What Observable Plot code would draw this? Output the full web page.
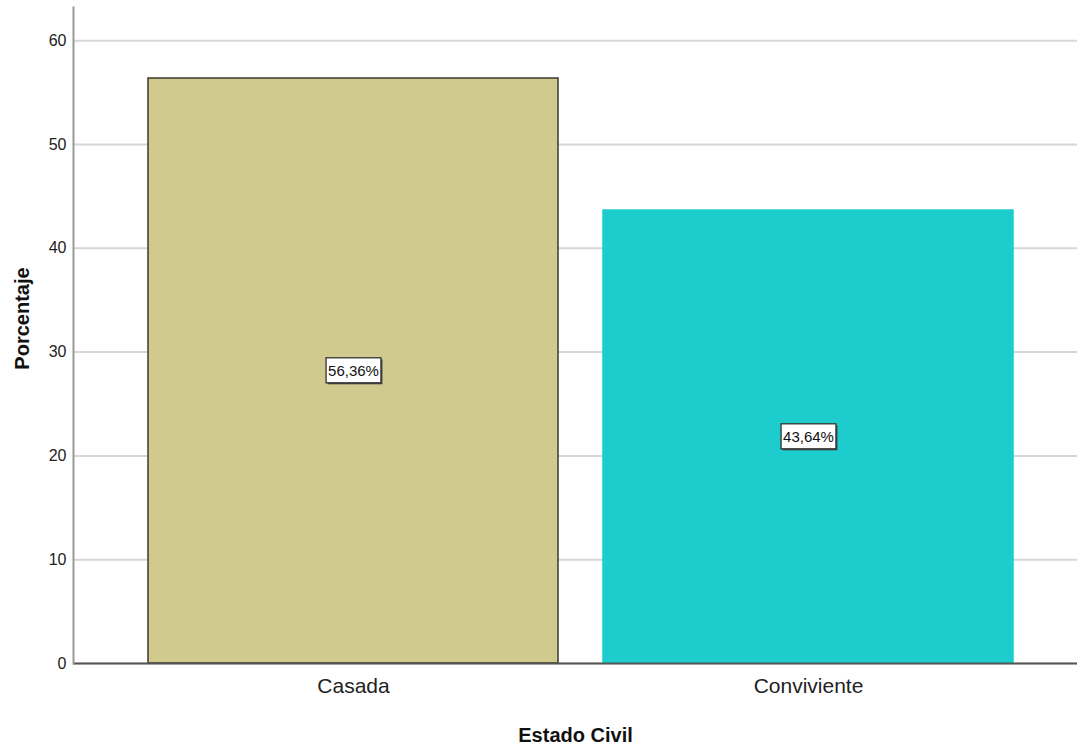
<!DOCTYPE html>
<html>
<head>
<meta charset="utf-8">
<script src="https://cdn.jsdelivr.net/npm/d3@7"></script>
<script src="https://cdn.jsdelivr.net/npm/@observablehq/plot@0.6"></script>
<style>
  html, body { margin: 0; padding: 0; background: #fff; }
</style>
</head>
<body>
<div id="chart"></div>
<script>
const categories = ["Casada", "Conviviente"];
const values = [56.36, 43.64];
const valueLabels = ["56,36%", "43,64%"];
const yTicks = [0, 10, 20, 30, 40, 50, 60];
const fills = ["#D0CA8E", "#1DCDCD"];
const strokes = ["#3a3a2c", "#1DCDCD"];
const yTitle = "Porcentaje";
const xTitle = "Estado Civil";

const data = categories.map((c, i) => ({cat: c, value: values[i], label: valueLabels[i], fill: fills[i], stroke: strokes[i]}));

const font = "'Liberation Sans', Arial, sans-serif";

const chart = Plot.plot({
  width: 1077,
  height: 756,
  marginTop: 7,
  marginBottom: 93,
  marginLeft: 73,
  marginRight: 0,
  style: {fontFamily: font, background: "#fff", color: "#222"},
  x: {domain: categories, range: [73, 1087], paddingInner: 0.1, paddingOuter: 0.162, label: null},
  y: {domain: [0, 63.2], label: null},
  color: {type: "identity"},
  marks: [
    Plot.ruleY(yTicks, {stroke: "#d6d6d6", strokeWidth: 2}),
    Plot.barY(data, {x: "cat", y: "value", fill: d => d.fill, stroke: d => d.stroke, strokeWidth: 1.5}),
    Plot.ruleY([0], {stroke: "#555", strokeWidth: 2}),
    Plot.frame({anchor: "left", stroke: "#999", strokeWidth: 2}),
    Plot.axisY({ticks: yTicks, tickSize: 0, tickPadding: 7, fontSize: 16, label: null}),
    Plot.axisX({tickSize: 0, tickPadding: 15, fontSize: 21, label: null}),
    Plot.text(data, {x: "cat", y: d => d.value / 2, text: "label", fontSize: 15, fill: "#111", ariaDescription: "bar-label"}),
    Plot.text([yTitle], {frameAnchor: "left", dx: -51, dy: -17, rotate: -90, textAnchor: "middle", fontWeight: "bold", fontSize: 20, fill: "#111"}),
    Plot.text([xTitle], {frameAnchor: "bottom", dy: 78, textAnchor: "middle", fontWeight: "bold", fontSize: 20, fill: "#111"})
  ]
});

document.getElementById("chart").append(chart);

// white boxes behind value labels
const ns = "http://www.w3.org/2000/svg";
chart.querySelectorAll('g[aria-description="bar-label"] text').forEach(t => {
  const bb = t.getBBox();
  const tr = t.getAttribute("transform");
  const mk = (dx, dy, fill, stroke) => {
    const r = document.createElementNS(ns, "rect");
    r.setAttribute("x", bb.x - 2 + dx);
    r.setAttribute("y", bb.y - 4 + dy);
    r.setAttribute("width", bb.width + 4);
    r.setAttribute("height", bb.height + 8);
    r.setAttribute("fill", fill);
    if (stroke) { r.setAttribute("stroke", stroke); r.setAttribute("stroke-width", 1.3); }
    if (tr) r.setAttribute("transform", tr);
    t.parentNode.insertBefore(r, t);
  };
  mk(1.5, 1.5, "#444", null);
  mk(0, 0, "#fff", "#333");
});
</script>
</body>
</html>
